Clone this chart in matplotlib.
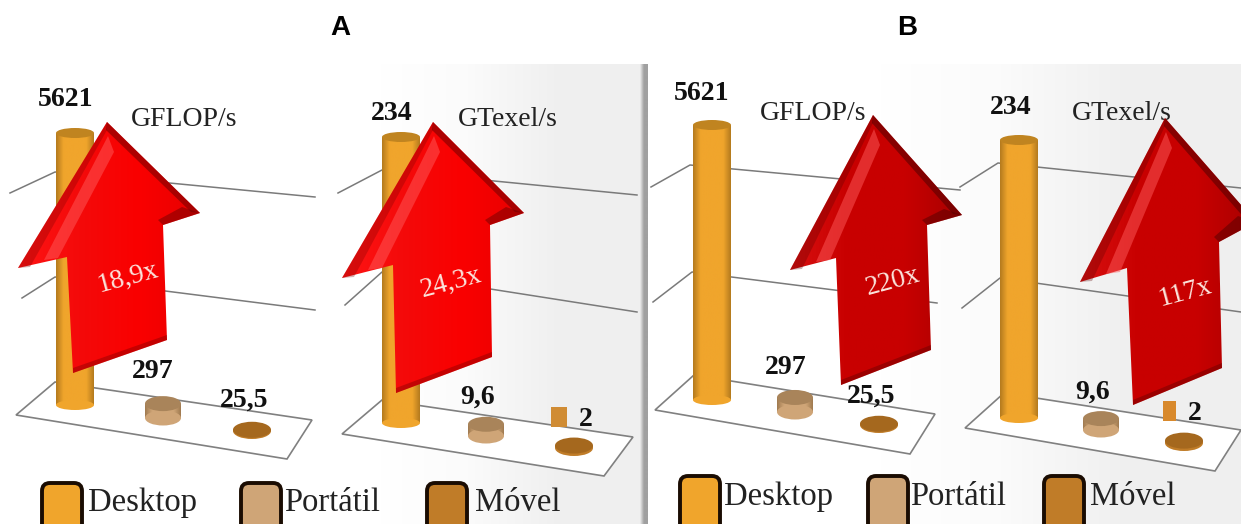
import numpy as np
import matplotlib
matplotlib.use('Agg')
import matplotlib.pyplot as plt
from matplotlib.patches import Polygon, Ellipse, Rectangle, FancyBboxPatch, PathPatch
from matplotlib.path import Path
from matplotlib.colors import LinearSegmentedColormap

# values of the two metrics, same for both panels
devices = ['Desktop', 'Portátil', 'Móvel']
gflops = [5621, 297, 25.5]
gtexels = [234, 9.6, 2]
gflops_labels = ['5621', '297', '25,5']
gtexels_labels = ['234', '9,6', '2']
gain_labels = ['18,9x', '24,3x', '220x', '117x']

W, H = 1241, 524
SERIF = 'Liberation Serif'
dev_colors = ['#f0a52c', '#cfa577', '#c07c28']
dev_dark = ['#b47a1e', '#a07a50', '#8f5a18']
top_colors = ['#c08420', '#a9845a', '#a5681e']
radii = [19, 18, 19]
ry_vals = [5, 7.5, 8]

fig = plt.figure(figsize=(W / 100, H / 100), dpi=100)
ax = fig.add_axes([0, 0, 1, 1])
ax.set_xlim(0, W)
ax.set_ylim(H, 0)
ax.axis('off')


def shade(patch, colors, box, z=3):
    ax.add_patch(patch)
    patch.set_facecolor('none')
    patch.set_edgecolor('none')
    patch.set_zorder(z)
    cmap = LinearSegmentedColormap.from_list('s', colors)
    grad = np.linspace(0, 1, 128).reshape(1, -1)
    im = ax.imshow(grad, extent=box, cmap=cmap, aspect='auto', zorder=z, vmin=0, vmax=1)
    im.set_clip_path(patch)


def cylinder(cx, base, h, i, z=3):
    r, ry = radii[i], ry_vals[i]
    top = base - h
    c, d = dev_colors[i], dev_dark[i]
    body = Path([(cx - r, top), (cx + r, top), (cx + r, base), (cx - r, base), (cx - r, top)])
    stops = [d, c, c, c, c, d]
    shade(PathPatch(body), stops, (cx - r, cx + r, base, top), z=z)
    ax.add_patch(Ellipse((cx, base), 2 * r, 2 * ry, fc=c, ec='none', zorder=z))
    ax.add_patch(Ellipse((cx, top), 2 * r, 2 * ry, fc=top_colors[i], ec='none', zorder=z + 0.1))


def arrow(pts, label, lx, ly, colors, edge, z=5):
    # pts: tip, right barb, right join, bottom right, bottom left, left join, left barb
    xs = [p[0] for p in pts]
    ys = [p[1] for p in pts]
    shade(Polygon(pts, closed=True), colors, (min(xs), max(xs), max(ys), min(ys)), z=z)
    tip, rb, rj, br, bl, lj, lb = pts
    # dark bevels: right edge of the head, under the barb, bottom of the shaft
    ax.add_patch(Polygon([tip, rb, (rb[0] - 9, rb[1] - 1), (tip[0] - 1, tip[1] + 8)], closed=True,
                         fc=edge, alpha=0.6, ec='none', zorder=z + 0.1))
    ax.add_patch(Polygon([rb, rj, (rj[0] - 5, rj[1] - 5), (rb[0] - 18, rb[1] - 6)], closed=True,
                         fc=edge, alpha=0.55, ec='none', zorder=z + 0.1))
    ax.add_patch(Polygon([br, bl, (bl[0], bl[1] - 5), (br[0], br[1] - 5)], closed=True,
                         fc=edge, alpha=0.4, ec='none', zorder=z + 0.1))
    # dark left edge of the head with a bright stripe just inside it
    ax.add_patch(Polygon([tip, lb, (lb[0] + 12, lb[1] - 1), (tip[0], tip[1] + 8)], closed=True,
                         fc=edge, alpha=0.3, ec='none', zorder=z + 0.1))
    ax.add_patch(Polygon([(tip[0] + 1, tip[1] + 14), (lb[0] + 26, lb[1] - 8),
                          (lb[0] + 40, lb[1] - 10), (tip[0] + 7, tip[1] + 30)], closed=True,
                         fc='#ff5a5a', alpha=0.5, ec='none', zorder=z + 0.1))
    ax.text(lx, ly, label, color='#fbe4dc', fontsize=20, family=SERIF, rotation=15,
            ha='center', va='center', zorder=z + 0.2)


def chart(values, labels, unit, unit_xy, col_x, col_base, full_h, floor, grid, label_xy):
    ax.add_patch(Polygon(floor, closed=True, fc='white', ec='#808080', lw=1.2, zorder=1))
    for g in grid:
        ax.plot([p[0] for p in g], [p[1] for p in g], color='#7a7a7a', lw=1.1, zorder=1)
    # body height is linear in the value within each chart
    scale = full_h / values[0]
    for i, v in enumerate(values):
        cylinder(col_x[i], col_base[i], v * scale, i)
        ax.text(label_xy[i][0], label_xy[i][1], labels[i], fontsize=20, family=SERIF,
                fontweight='bold', color='#111111', ha='center', va='center', zorder=4)
    ax.text(unit_xy[0], unit_xy[1], unit, fontsize=20, family=SERIF, color='#222222',
            ha='center', va='center', zorder=4)


def legend(box_x, text_x, y, text_y):
    for i, name in enumerate(devices):
        ax.add_patch(FancyBboxPatch((box_x[i], y), 40, 60, boxstyle='round,pad=0,rounding_size=8',
                                    fc=dev_colors[i], ec='#1a0c02', lw=2.8, zorder=3))
        ax.text(text_x[i], text_y, name, fontsize=23.5, family=SERIF, color='#222222',
                ha='left', va='center', zorder=4)


# page background, white fading to light grey towards the right of each panel
bg_cmap = LinearSegmentedColormap.from_list('bg', ['#ffffff', '#fbfbfb', '#f0f0f0', '#efefef'])
grad = np.linspace(0, 1, 256).reshape(1, -1)
ax.imshow(grad, extent=(380, 642, 524, 64), cmap=bg_cmap, aspect='auto', zorder=0)
ax.imshow(grad, extent=(880, 1241, 524, 64), cmap=bg_cmap, aspect='auto', zorder=0)
# panel divider, darkening into the edge
sep_cmap = LinearSegmentedColormap.from_list('sep', ['#efefef', '#a0a0a0', '#a0a0a0'])
ax.imshow(grad, extent=(640, 648, 524, 64), cmap=sep_cmap, aspect='auto', zorder=0.5)

ax.text(340, 28, 'A', fontsize=20, fontweight='bold', family='Liberation Sans', ha='center', va='center')
ax.text(907, 28, 'B', fontsize=20, fontweight='bold', family='Liberation Sans', ha='center', va='center')

red_a = ['#ff1414', '#f40a0a', '#fa0000', '#e80000']
red_b = ['#d81010', '#c80000', '#c80000', '#a80000']

# panel A
chart(gflops, gflops_labels, 'GFLOP/s', (184, 120), [75, 163, 252], [405, 418, 431], 272,
      [(16, 415), (55, 382), (312, 420), (287, 459)],
      [[(10, 193), (55, 172), (315, 197)], [(22, 298), (55, 277), (315, 310)]],
      [(66, 100), (153, 372), (244, 400)])
chart(gtexels, gtexels_labels, 'GTexel/s', (508, 120), [401, 486, 574], [423, 436, 448], 286,
      [(342, 434), (382, 400), (633, 437), (604, 476)],
      [[(338, 193), (382, 170), (637, 195)], [(345, 305), (382, 272), (637, 312)]],
      [(392, 114), (478, 397), (586, 420)])
ax.add_patch(Rectangle((551, 407), 16, 20, fc='#d08c34', ec='none', zorder=3))
arrow([(107, 122), (200, 213), (163, 225), (167, 340), (73, 373), (67, 257), (18, 268)],
      gain_labels[0], 128, 278, red_a, '#7a0000')
arrow([(433, 122), (524, 213), (490, 225), (492, 357), (396, 393), (393, 265), (342, 278)],
      gain_labels[1], 451, 283, red_a, '#7a0000')
legend([42, 241, 427], [88, 284, 475], 483, 503)

# panel B
chart(gflops, gflops_labels, 'GFLOP/s', (813, 113), [712, 795, 879], [400, 412, 425], 275,
      [(655, 410), (694, 375), (935, 414), (910, 454)],
      [[(651, 187), (690, 165), (960, 190)], [(653, 302), (692, 272), (937, 303)]],
      [(702, 93), (786, 367), (871, 396)])
chart(gtexels, gtexels_labels, 'GTexel/s', (1122, 113), [1019, 1101, 1184], [418, 430, 443], 278,
      [(965, 428), (1004, 393), (1241, 430), (1215, 471)],
      [[(960, 187), (998, 163), (1241, 188)], [(962, 308), (1000, 278), (1241, 312)]],
      [(1011, 107), (1093, 392), (1195, 413)])
ax.add_patch(Rectangle((1163, 401), 13, 20, fc='#d8892c', ec='none', zorder=3))
arrow([(873, 115), (962, 215), (927, 225), (931, 350), (841, 385), (836, 258), (790, 270)],
      gain_labels[2], 893, 282, red_b, '#5a0000')
arrow([(1165, 118), (1256, 222), (1219, 242), (1222, 368), (1133, 405), (1127, 268), (1080, 282)],
      gain_labels[3], 1185, 293, red_b, '#5a0000')
legend([680, 868, 1044], [724, 910, 1090], 476, 497)

ax.set_xlim(0, W)
ax.set_ylim(H, 0)
fig.savefig('out.png', dpi=100)
